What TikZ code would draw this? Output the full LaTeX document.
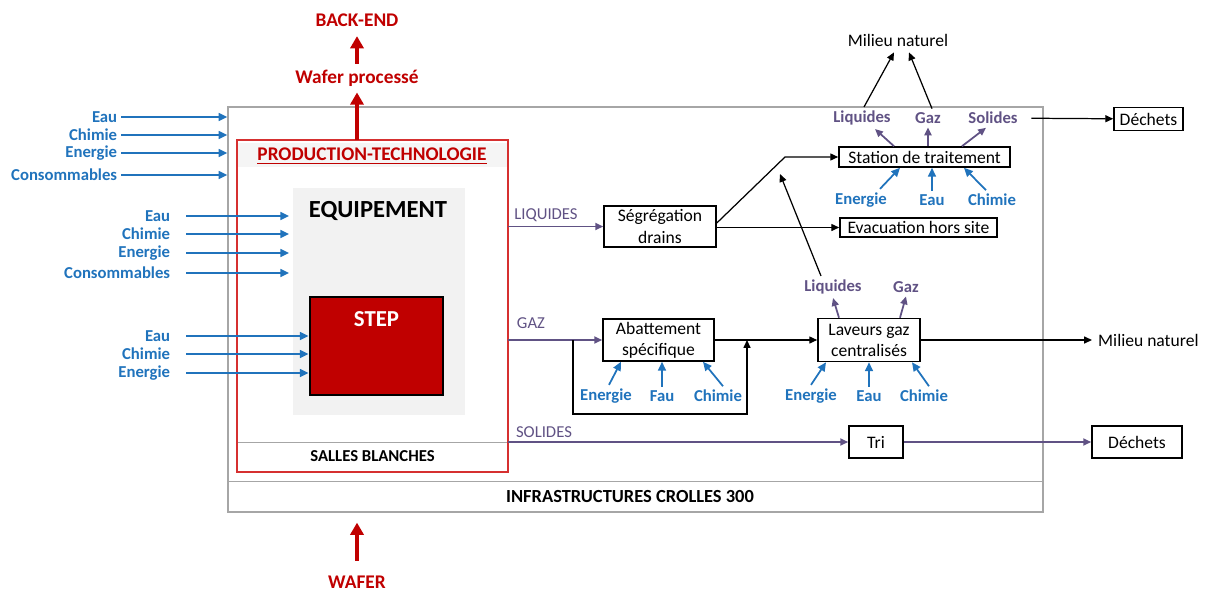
\documentclass[tikz,border=0pt]{standalone}
\usepackage{fontspec}
\setmainfont{Carlito}
\usetikzlibrary{arrows.meta,positioning}

\definecolor{feedblue}{RGB}{32,115,188}
\definecolor{flowviolet}{RGB}{96,82,132}
\definecolor{waferred}{RGB}{192,0,0}
\definecolor{prodred}{RGB}{214,48,48}

\begin{document}
\begin{tikzpicture}[>={Triangle[length=4.5pt,width=4pt]},font=\fontsize{10}{12}\selectfont]

    \tikzstyle{box}=[draw=black,line width=0.9pt,fill=white,inner sep=0pt,align=center]
    \tikzstyle{feed}=[text=feedblue,font=\fontsize{9.5}{11}\selectfont\bfseries,inner sep=2pt]
    \tikzstyle{feedline}=[->,feedblue,line width=1pt,>={Triangle[length=5pt,width=4.5pt]}]
    \tikzstyle{flow}=[text=flowviolet,font=\fontsize{9.5}{11}\selectfont,inner sep=2pt]
    \tikzstyle{flowline}=[->,flowviolet,line width=1pt]
    \tikzstyle{link}=[->,black,line width=0.7pt]
    \tikzstyle{waferlabel}=[text=waferred,font=\fontsize{11}{13}\selectfont\bfseries]
    \tikzstyle{waferline}=[->,waferred,line width=2.4pt,>={Triangle[length=7pt,width=7.5pt]}]

    \useasboundingbox (0,0) rectangle (24.12,-11.86);

    % infrastructures
    \node [draw=gray!70,line width=0.7pt,minimum width=16.3cm,minimum height=8.1cm] (infra) at (12.71,-6.19) {};
    \draw [gray!70,line width=0.7pt] ([yshift=0.62cm]infra.south west) -- ([yshift=0.62cm]infra.south east);
    \node [font=\fontsize{10.5}{12}\selectfont\bfseries] (infratext) at (12.60,-9.93) {INFRASTRUCTURES CROLLES 300};

    % production - technologie
    \node [minimum width=5.42cm,minimum height=6.64cm] (prod) at (7.45,-6.12) {};
    \fill [gray!8] ([shift={(1pt,-0.06cm)}]prod.north west) rectangle ([shift={(-1pt,-0.54cm)}]prod.north east);
    \draw [gray!70,line width=0.8pt] ([yshift=0.6cm]prod.south west) -- ([yshift=0.6cm]prod.south east);
    \node [draw=prodred,line width=1.2pt,minimum width=5.42cm,minimum height=6.64cm] at (prod) {};
    \node [waferlabel] (prodtitle) at (7.44,-3.12) {\underline{PRODUCTION-TECHNOLOGIE}};
    \node [font=\fontsize{9.5}{11}\selectfont\bfseries] (salles) at (7.45,-9.12) {SALLES BLANCHES};

    \node [fill=gray!10,minimum width=3.44cm,minimum height=4.54cm] (equip) at (7.58,-6.03) {};
    \node [font=\fontsize{14}{16}\selectfont\bfseries] (equiptitle) at (7.56,-4.22) {EQUIPEMENT};
    \node [draw=black,line width=1.6pt,fill=waferred,minimum width=2.66cm,minimum height=1.96cm] (step) at (7.53,-6.92) {};
    \node [text=white,font=\fontsize{13}{15}\selectfont\bfseries] (steptitle) [below=0.2cm of step.north] {STEP};

    % wafer
    \node [waferlabel] (processe) at (7.14,-1.56) {Wafer processé};
    \node [waferlabel] (backend) at (7.14,-0.40) {BACK-END};
    \node [waferlabel] (wafer) at (7.14,-11.64) {WAFER};
    \draw [waferline] (prod.north -| processe) -- (processe);
    \draw [waferline,shorten >=2pt] (processe) -- (backend);
    \draw [waferline,shorten <=0.18cm,shorten >=0.2cm] (wafer) -- (wafer |- infra.south);

    % entrees du site
    \node [feed,anchor=east] (eau1) at (2.42,-2.34) {Eau};
    \node [feed,anchor=east] (chimie1) at (2.42,-2.70) {Chimie};
    \node [feed,anchor=east] (energie1) at (2.42,-3.06) {Energie};
    \node [feed,anchor=east] (conso1) at (2.42,-3.50) {Consommables};
    \draw [feedline] (eau1) -- (eau1 -| infra.west);
    \draw [feedline] (chimie1) -- (chimie1 -| infra.west);
    \draw [feedline] (energie1) -- (energie1 -| infra.west);
    \draw [feedline] (conso1) -- (conso1 -| infra.west);

    % entrees equipement
    \node [feed,anchor=east] (eau2) at (3.48,-4.32) {Eau};
    \node [feed,anchor=east] (chimie2) at (3.48,-4.68) {Chimie};
    \node [feed,anchor=east] (energie2) at (3.48,-5.06) {Energie};
    \node [feed,anchor=east] (conso2) at (3.48,-5.46) {Consommables};
    \draw [feedline,shorten <=0.24cm,shorten >=2pt] (eau2) -- (eau2 -| equip.west);
    \draw [feedline,shorten <=0.24cm,shorten >=2pt] (chimie2) -- (chimie2 -| equip.west);
    \draw [feedline,shorten <=0.24cm,shorten >=2pt] (energie2) -- (energie2 -| equip.west);
    \draw [feedline,shorten <=0.24cm,shorten >=2pt] (conso2) -- (conso2 -| equip.west);

    % entrees step
    \node [feed,anchor=east] (eau3) at (3.48,-6.72) {Eau};
    \node [feed,anchor=east] (chimie3) at (3.48,-7.08) {Chimie};
    \node [feed,anchor=east] (energie3) at (3.48,-7.46) {Energie};
    \draw [feedline,shorten <=0.24cm] (eau3) -- (eau3 -| step.west);
    \draw [feedline,shorten <=0.24cm] (chimie3) -- (chimie3 -| step.west);
    \draw [feedline,shorten <=0.24cm] (energie3) -- (energie3 -| step.west);

    % liquides
    \node [box,minimum width=2.24cm,minimum height=0.82cm] (segreg) at (13.2,-4.53) {Ségrégation\\drains};
    \node [box,minimum width=3.42cm,minimum height=0.40cm] (station) at (18.49,-3.14) {Station de traitement};
    \node [box,minimum width=3.14cm,minimum height=0.38cm] (evac) at (18.37,-4.55) {Evacuation hors site};
    \node [box,minimum width=1.38cm,minimum height=0.46cm] (dechets1) at (22.97,-2.38) {Déchets};
    \node [flow] (liqflow) at (10.92,-4.30) {LIQUIDES};
    \draw [flowline] (segreg -| prod.east) -- (segreg);
    \coordinate (kink) at (15.70,-3.14);
    \draw [link] ([yshift=0.07cm]segreg.east) -- (kink) -- (station);
    \draw [link] (segreg.east |- evac) -- (evac);

    \node [flow,font=\fontsize{9.5}{11}\selectfont\bfseries] (liq1) at (17.24,-2.36) {Liquides};
    \node [flow,font=\fontsize{9.5}{11}\selectfont\bfseries] (gaz1) at (18.56,-2.36) {Gaz};
    \node [flow,font=\fontsize{9.5}{11}\selectfont\bfseries] (sol1) at (19.86,-2.36) {Solides};
    \node (milieu1) at (17.96,-0.80) {Milieu naturel};
    \draw [flowline] ([xshift=-0.61cm]station.north) -- ([xshift=0.26cm]liq1.south);
    \draw [flowline] (station.north -| gaz1) -- (gaz1.south);
    \draw [flowline] ([xshift=0.75cm]station.north) -- ([xshift=-0.14cm]sol1.south);
    \draw [link] ([xshift=0.04cm]liq1.north) -- ([xshift=-0.08cm]milieu1.south);
    \draw [link] ([xshift=0.08cm]gaz1.north) -- ([xshift=0.22cm]milieu1.south);
    \draw [link,shorten <=0.2cm] (sol1) -- (dechets1);

    \node [feed] (energie4) at (17.22,-4.00) {Energie};
    \node [feed] (eau4) at (18.64,-4.00) {Eau};
    \node [feed] (chimie4) at (19.84,-4.00) {Chimie};
    \draw [feedline] ([xshift=0.38cm]energie4.north) -- ([xshift=-0.49cm]station.south);
    \draw [feedline] (eau4) -- (eau4 |- station.south);
    \draw [feedline] ([xshift=-0.12cm]chimie4.north) -- ([xshift=0.79cm]station.south);

    % gaz
    \node [box,minimum width=2.22cm,minimum height=0.84cm] (abat) at (13.17,-6.80) {Abattement\\spécifique};
    \node [box,minimum width=2.04cm,minimum height=0.86cm] (laveurs) at (17.38,-6.80) {Laveurs gaz\\centralisés};
    \node [anchor=west] (milieu2) at (21.84,-6.80) {Milieu naturel};
    \node [flow] (gazflow) at (10.62,-6.46) {GAZ};
    \draw [flowline] (abat -| prod.east) -- (abat);
    \coordinate (bypass) at (11.46,-6.80);
    \coordinate (retour) at (14.94,-6.80);
    \draw [link] (bypass) -- (11.46,-8.28) -| (retour);
    \draw [link] (abat) -- (laveurs);
    \draw [link] (laveurs) -- (milieu2);

    \node [flow,font=\fontsize{9.5}{11}\selectfont\bfseries] (liq2) at (16.66,-5.74) {Liquides};
    \node [flow,font=\fontsize{9.5}{11}\selectfont\bfseries] (gaz2) at (18.12,-5.74) {Gaz};
    \draw [flowline] ([xshift=-0.6cm]laveurs.north) -- (liq2.south);
    \draw [flowline] ([xshift=0.62cm]laveurs.north) -- (gaz2.south);
    \coordinate (rejoint) at (15.60,-3.48);
    \draw [link] ([xshift=-0.24cm]liq2.north) -- (rejoint);

    \node [feed] (energie5) at (12.12,-7.92) {Energie};
    \node [feed] (fau) at (13.24,-7.92) {Fau};
    \node [feed] (chimie5) at (14.36,-7.92) {Chimie};
    \draw [feedline] ([xshift=0.06cm]energie5.north) -- ([xshift=-0.75cm]abat.south);
    \draw [feedline] (fau) -- (fau |- abat.south);
    \draw [feedline] ([xshift=0.1cm]chimie5.north) -- ([xshift=0.89cm]abat.south);

    \node [feed] (energie6) at (16.22,-7.92) {Energie};
    \node [feed] (eau6) at (17.38,-7.92) {Eau};
    \node [feed] (chimie6) at (18.48,-7.92) {Chimie};
    \draw [feedline] (energie6.north) -- ([xshift=-0.86cm]laveurs.south);
    \draw [feedline] (eau6) -- (eau6 |- laveurs.south);
    \draw [feedline] ([xshift=0.1cm]chimie6.north) -- ([xshift=0.86cm]laveurs.south);

    % solides
    \node [box,minimum width=1.08cm,minimum height=0.64cm] (tri) at (17.52,-8.84) {Tri};
    \node [box,minimum width=1.8cm,minimum height=0.64cm] (dechets2) at (22.74,-8.84) {Déchets};
    \node [flow] (solflow) at (10.88,-8.64) {SOLIDES};
    \draw [flowline] (tri -| prod.east) -- (tri);
    \draw [flowline] (tri) -- (dechets2);

\end{tikzpicture}
\end{document}
